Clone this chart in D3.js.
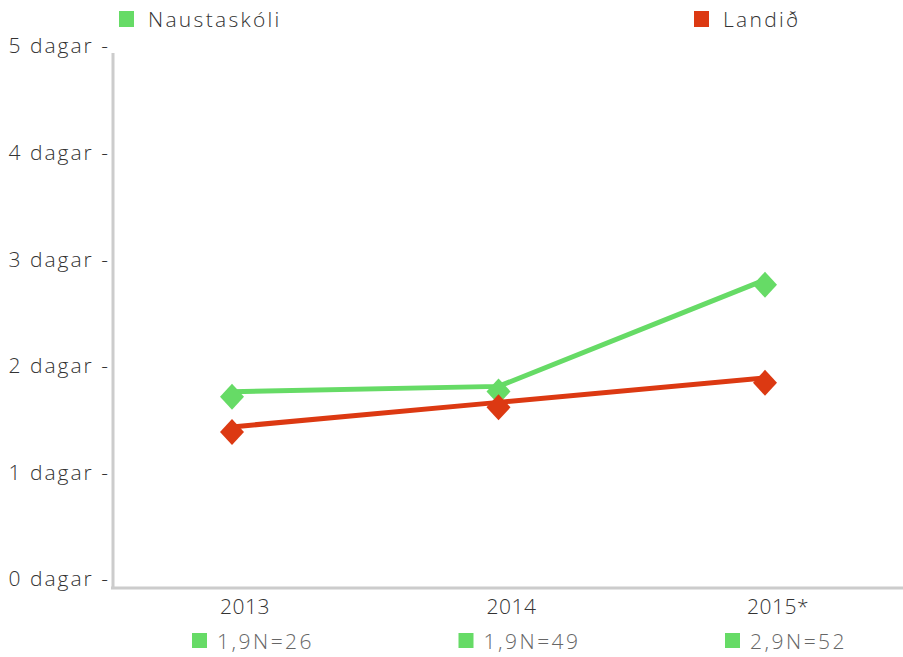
<!DOCTYPE html>
<html>
<head>
<meta charset="utf-8">
<script src="https://cdn.jsdelivr.net/npm/d3@7"></script>
<style>
  body { margin: 0; background: #fff; }
  text { font-family: "Open Sans", Lato, sans-serif; font-weight: 300; }
</style>
</head>
<body>
<svg id="chart"></svg>
<script>
// data
var years = ["2013", "2014", "2015*"];
var naustaskoli = [1.71, 1.76, 2.76];
var landid = [1.38, 1.61, 1.84];
var yTicks = [0, 1, 2, 3, 4, 5];
var nLabels = ["1,9N=26", "1,9N=49", "2,9N=52"];
var seriesNames = ["Naustaskóli", "Landið"];
var colors = ["#66db66", "#dc3912"];

var W = 903, H = 657;
var svg = d3.select("#chart").attr("width", W).attr("height", H);

var x = d3.scalePoint().domain(years).range([232, 765]);
var y = d3.scaleLinear().domain([0, 5]).range([579, 46]);

//axis lines
svg.append("line")
  .attr("x1", 113).attr("x2", 113)
  .attr("y1", 53).attr("y2", 588)
  .attr("stroke", "#cccccc").attr("stroke-width", 3);
svg.append("line")
  .attr("x1", 111).attr("x2", W)
  .attr("y1", 588).attr("y2", 588)
  .attr("stroke", "#cccccc").attr("stroke-width", 3);

//y labels, the dash is part of the text
svg.selectAll(".ylab")
  .data(yTicks)
  .enter().append("text")
  .attr("class", "ylab")
  .attr("x", 110)
  .attr("y", function(d) { return y(d); })
  .attr("dy", "0.35em")
  .attr("text-anchor", "end")
  .attr("font-size", 21)
  .attr("fill", "#333")
  .style("letter-spacing", "2px")
  .text(function(d) { return d + " dagar -"; });

//x labels
svg.selectAll(".xlab")
  .data(years)
  .enter().append("text")
  .attr("class", "xlab")
  .attr("x", function(d) { return x(d) + 13; })
  .attr("y", 614)
  .attr("text-anchor", "middle")
  .attr("font-size", 21)
  .attr("fill", "#333")
  .style("letter-spacing", "0.5px")
  .text(function(d) { return d; });

//N labels under the years
var nl = svg.selectAll(".nlab")
  .data(years)
  .enter().append("g")
  .attr("class", "nlab")
  .attr("transform", function(d) { return "translate(" + x(d) + ",0)"; });
nl.append("rect")
  .attr("x", -40).attr("y", 633)
  .attr("width", 15).attr("height", 15)
  .attr("fill", colors[0]);
nl.append("text")
  .attr("x", -15).attr("y", 649)
  .attr("font-size", 21)
  .attr("fill", "#666")
  .style("letter-spacing", "2.5px")
  .text(function(d, i) { return nLabels[i]; });

//lines + diamonds
var line = d3.line()
  .x(function(d, i) { return x(years[i]); })
  .y(function(d) { return y(d); });

[naustaskoli, landid].forEach(function(vals, s) {
  svg.append("path")
    .datum(vals)
    .attr("fill", "none")
    .attr("stroke", colors[s])
    .attr("stroke-width", 5)
    .attr("transform", "translate(0,-5)")
    .attr("d", line);
  svg.selectAll(".dia" + s)
    .data(vals)
    .enter().append("path")
    .attr("class", "dia" + s)
    .attr("fill", colors[s])
    .attr("d", "M0,-13L12,0L0,13L-12,0Z")
    .attr("transform", function(d, i) {
      return "translate(" + x(years[i]) + "," + y(d) + ")";
    });
});

//legend
var legX = [119, 694];
seriesNames.forEach(function(name, i) {
  svg.append("rect")
    .attr("x", legX[i]).attr("y", 11)
    .attr("width", 15).attr("height", 16)
    .attr("fill", colors[i]);
  svg.append("text")
    .attr("x", legX[i] + 29).attr("y", 27)
    .attr("font-size", 21)
    .attr("fill", "#333")
    .style("letter-spacing", "2.3px")
    .text(name);
});
</script>
</body>
</html>
